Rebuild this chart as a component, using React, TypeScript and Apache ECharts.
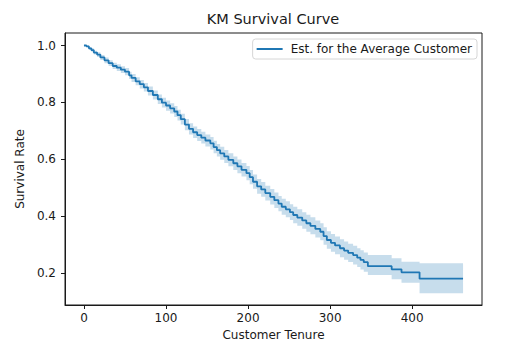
import React, { useEffect, useRef } from "react";
import * as echarts from "echarts";

const times = [0, 3, 6, 9, 12, 16, 20, 25, 30, 35, 40, 45, 50, 55, 58, 63, 68, 73, 78, 84, 90, 95, 100, 105, 110, 114, 118, 123, 128, 133, 138, 143, 148, 154, 158, 162, 166, 171, 176, 182, 187, 192, 198, 202, 206, 211, 216, 221, 227, 232, 237, 241, 246, 251, 255, 260, 266, 271, 276, 282, 288, 292, 296, 301, 306, 312, 317, 322, 328, 333, 337, 341, 346, 375, 387, 409, 462];
const survival = [1.0, 0.997, 0.99, 0.984, 0.975, 0.968, 0.958, 0.948, 0.938, 0.928, 0.922, 0.915, 0.908, 0.895, 0.886, 0.874, 0.864, 0.853, 0.84, 0.826, 0.811, 0.799, 0.789, 0.779, 0.768, 0.755, 0.741, 0.722, 0.707, 0.695, 0.685, 0.676, 0.666, 0.656, 0.643, 0.632, 0.621, 0.61, 0.598, 0.586, 0.575, 0.563, 0.551, 0.537, 0.521, 0.505, 0.494, 0.481, 0.468, 0.456, 0.444, 0.433, 0.424, 0.414, 0.404, 0.395, 0.385, 0.375, 0.366, 0.355, 0.345, 0.33, 0.316, 0.306, 0.297, 0.287, 0.279, 0.271, 0.263, 0.254, 0.246, 0.238, 0.224, 0.213, 0.2025, 0.18, 0.18];
const ciUpper = [1.0, 1.0, 0.995, 0.99, 0.982, 0.976, 0.967, 0.958, 0.948, 0.939, 0.934, 0.927, 0.921, 0.908, 0.9, 0.888, 0.879, 0.868, 0.856, 0.842, 0.828, 0.816, 0.807, 0.797, 0.787, 0.774, 0.76, 0.742, 0.727, 0.715, 0.706, 0.697, 0.687, 0.678, 0.665, 0.654, 0.644, 0.633, 0.621, 0.61, 0.599, 0.587, 0.576, 0.562, 0.546, 0.531, 0.52, 0.507, 0.495, 0.483, 0.471, 0.461, 0.452, 0.442, 0.433, 0.424, 0.414, 0.405, 0.396, 0.385, 0.375, 0.361, 0.347, 0.337, 0.328, 0.319, 0.311, 0.303, 0.296, 0.287, 0.28, 0.272, 0.263, 0.252, 0.24, 0.234, 0.234];
const ciLower = [1.0, 0.994, 0.985, 0.978, 0.968, 0.96, 0.949, 0.938, 0.928, 0.917, 0.91, 0.903, 0.895, 0.882, 0.872, 0.86, 0.849, 0.838, 0.824, 0.81, 0.794, 0.782, 0.771, 0.761, 0.749, 0.736, 0.722, 0.702, 0.687, 0.675, 0.664, 0.655, 0.645, 0.634, 0.621, 0.61, 0.598, 0.587, 0.575, 0.562, 0.551, 0.539, 0.526, 0.512, 0.496, 0.479, 0.468, 0.455, 0.441, 0.429, 0.417, 0.405, 0.396, 0.386, 0.375, 0.366, 0.356, 0.345, 0.336, 0.325, 0.315, 0.299, 0.285, 0.275, 0.266, 0.255, 0.247, 0.239, 0.23, 0.221, 0.212, 0.204, 0.193, 0.178, 0.166, 0.129, 0.129];

const xTicks = [0, 100, 200, 300, 400];
const yTicks = [0.2, 0.4, 0.6, 0.8, 1.0];

const FONT = "DejaVu Sans";
const C0 = "#1f77b4";
const INK = "#1a1a1a";

export default function App() {
  const ref = useRef<HTMLDivElement>(null);
  useEffect(() => {
    if (!ref.current) return;
    const chart = echarts.init(ref.current, undefined, { renderer: "svg" });
    const lineData = times.map((t, i) => [t, survival[i]]);
    chart.setOption({
      animation: false,
      textStyle: { fontFamily: FONT },
      title: {
        text: "KM Survival Curve",
        left: 273,
        top: 11,
        textAlign: "center",
        padding: 0,
        textStyle: { fontFamily: FONT, fontSize: 14.5, fontWeight: "normal", color: INK },
      },
      legend: {
        data: [{ name: "Est. for the Average Customer", icon: "rect" }],
        right: 47,
        top: 39,
        itemWidth: 26,
        itemHeight: 2,
        padding: [4, 5, 4, 4],
        borderColor: "#d6d6d6",
        borderWidth: 1,
        borderRadius: 3,
        backgroundColor: "#fff",
        textStyle: { fontFamily: FONT, fontSize: 12, color: INK, padding: [0, 0, 0, 3] },
      },
      grid: { left: 65, top: 33, width: 417, height: 272, show: true, borderColor: INK, borderWidth: 1, backgroundColor: "transparent" },
      xAxis: {
        type: "value",
        min: -23.1,
        max: 485.1,
        name: "Customer Tenure",
        nameLocation: "middle",
        nameGap: 22,
        nameTextStyle: { fontFamily: FONT, fontSize: 12, color: INK },
        splitLine: { show: false },
        axisLine: { show: true, onZero: false, lineStyle: { color: INK } },
        axisTick: { show: true, customValues: xTicks, length: 4, lineStyle: { color: INK } },
        axisLabel: { customValues: xTicks, fontFamily: FONT, fontSize: 12, color: INK, margin: 7 },
      },
      yAxis: {
        type: "value",
        min: 0.0875,
        max: 1.044,
        name: "Survival Rate",
        nameLocation: "middle",
        nameGap: 34,
        nameRotate: 90,
        nameTextStyle: { fontFamily: FONT, fontSize: 12, color: INK },
        splitLine: { show: false },
        axisLine: { show: true, onZero: false, lineStyle: { color: INK } },
        axisTick: { show: true, customValues: yTicks, length: 4, lineStyle: { color: INK } },
        axisLabel: {
          customValues: yTicks,
          fontFamily: FONT,
          fontSize: 12,
          color: INK,
          margin: 9,
          formatter: (v: number) => v.toFixed(1),
        },
      },
      series: [
        {
          type: "custom",
          name: "CI",
          coordinateSystem: "cartesian2d",
          data: [[0, 1]],
          z: 1,
          silent: true,
          renderItem: (params: any, api: any) => {
            const pts: number[][] = [];
            const n = times.length;
            for (let i = 0; i < n - 1; i++) {
              pts.push(api.coord([times[i], ciUpper[i]]));
              pts.push(api.coord([times[i + 1], ciUpper[i]]));
            }
            for (let i = n - 2; i >= 0; i--) {
              pts.push(api.coord([times[i + 1], ciLower[i]]));
              pts.push(api.coord([times[i], ciLower[i]]));
            }
            return {
              type: "polygon",
              shape: { points: pts },
              style: { fill: C0, opacity: 0.25 },
            };
          },
        },
        {
          type: "line",
          name: "Est. for the Average Customer",
          data: lineData,
          step: "end",
          showSymbol: false,
          symbol: "none",
          z: 3,
          itemStyle: { color: C0 },
          lineStyle: { color: C0, width: 1.8 },
        },
      ],
    });
    return () => chart.dispose();
  }, []);
  return <div ref={ref} style={{ position: "absolute", left: 0, top: 0, width: 524, height: 352 }} />;
}
